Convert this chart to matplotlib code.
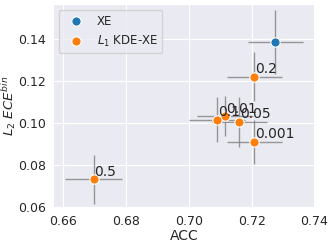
import numpy as np
import matplotlib
matplotlib.use('Agg')
import matplotlib.pyplot as plt
import seaborn as sns

sns.set_style('darkgrid')

# XE baseline
xe_acc = [0.7275]
xe_ece = [0.1384]
xe_acc_err = [0.0088]
xe_ece_err = [0.0150]

# L1 KDE-XE, one point per lambda
kde_labels = ['0.001', '0.01', '0.05', '0.1', '0.2', '0.5']
kde_acc = [0.7208, 0.7115, 0.7161, 0.7089, 0.7208, 0.6696]
kde_ece = [0.0911, 0.1031, 0.1005, 0.1016, 0.1220, 0.0733]
kde_acc_err = [0.0088, 0.0088, 0.0088, 0.0089, 0.0088, 0.0092]
kde_ece_err = [0.0105, 0.0095, 0.0118, 0.0105, 0.0116, 0.0116]

fig, ax = plt.subplots(figsize=(3.32, 2.45), dpi=100)

ax.errorbar(xe_acc, xe_ece, xerr=xe_acc_err, yerr=xe_ece_err,
            fmt='none', ecolor='gray', elinewidth=1, alpha=0.8, zorder=1)
ax.errorbar(kde_acc, kde_ece, xerr=kde_acc_err, yerr=kde_ece_err,
            fmt='none', ecolor='gray', elinewidth=1, alpha=0.8, zorder=1)

ax.scatter(xe_acc, xe_ece, s=45, color='#1f77b4', edgecolor='white',
           linewidth=0.8, zorder=3, label='XE')
for i in range(len(kde_labels)):
    ax.scatter(kde_acc[i], kde_ece[i], s=45, color='#ff7f0e', edgecolor='white',
               linewidth=0.8, zorder=3, label='$L_1$ KDE-XE' if i == 0 else None)
    ax.text(kde_acc[i] + 0.0003, kde_ece[i] + 0.0003, kde_labels[i],
            fontsize=10, ha='left', va='bottom', zorder=3)

ax.set_xlim(0.6567, 0.7402)
ax.set_ylim(0.0596, 0.1565)
ax.set_xticks([0.66, 0.68, 0.70, 0.72, 0.74])
ax.set_yticks([0.06, 0.08, 0.10, 0.12, 0.14])
ax.tick_params(labelsize=9, pad=1.5)
ax.set_xlabel('ACC', fontsize=10, labelpad=1)
ax.set_ylabel('$L_2\\ ECE^{bin}$', fontsize=9.5, labelpad=0)
ax.legend(loc='upper left', fontsize=8.5, markerscale=1.0)

fig.subplots_adjust(left=0.16, right=0.949, top=0.984, bottom=0.151)
fig.savefig('out.png', dpi=100)
